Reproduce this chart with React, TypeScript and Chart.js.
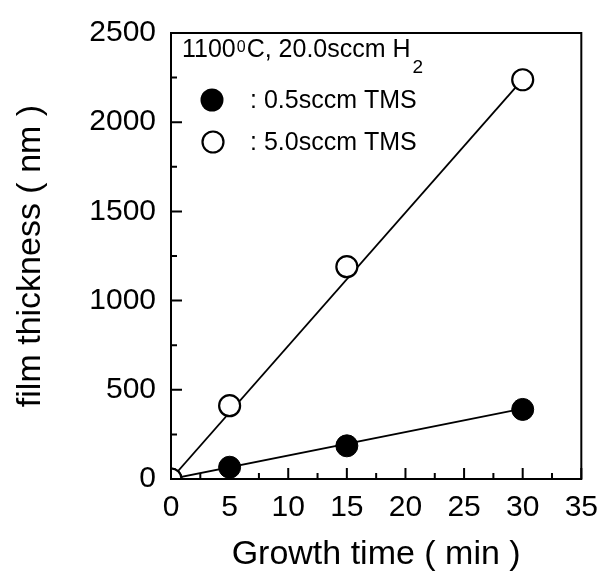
import React, { useEffect, useRef } from "react";
import { Chart, registerables } from "chart.js";

Chart.register(...registerables);

// ---- data ----
const times = [0, 5, 15, 30];
const lowTMS = [0, 66, 186, 390]; // 0.5 sccm TMS (filled)
const highTMS = [0, 411, 1190, 2238]; // 5.0 sccm TMS (open)
const fitTimes = [0, 30];
const lowFit = [0, 395];
const highFit = [0, 2240];
const xTicks = [0, 5, 10, 15, 20, 25, 30, 35];
const xMinorTicks = [2.5, 7.5, 12.5, 17.5, 22.5, 27.5, 32.5];
const yTicks = [0, 500, 1000, 1500, 2000, 2500];
const yMinorTicks = [250, 750, 1250, 1750, 2250];

const xTitle = "Growth time ( min )";
const yTitle = "film thickness ( nm )";
const condMain1 = "1100";
const condSup = "0";
const condMain2 = "C, 20.0sccm H";
const condSub = "2";
const legendLow = ": 0.5sccm TMS";
const legendHigh = ": 5.0sccm TMS";

const FONT = "'Liberation Sans', Arial, sans-serif";

const framePlugin = {
  id: "frameAndTicks",
  afterDraw(chart: any) {
    const { ctx, chartArea, scales } = chart;
    const { left, right, top, bottom } = chartArea;
    const x = scales.x;
    const y = scales.y;
    ctx.save();
    ctx.strokeStyle = "#000";
    ctx.lineWidth = 2;
    ctx.strokeRect(left, top, right - left, bottom - top);
    ctx.lineWidth = 2;
    ctx.beginPath();
    for (const v of xTicks) {
      const px = x.getPixelForValue(v);
      ctx.moveTo(px, bottom);
      ctx.lineTo(px, bottom - 11);
    }
    for (const v of xMinorTicks) {
      const px = x.getPixelForValue(v);
      ctx.moveTo(px, bottom);
      ctx.lineTo(px, bottom - 6);
    }
    for (const v of yTicks) {
      const py = y.getPixelForValue(v);
      ctx.moveTo(left, py);
      ctx.lineTo(left + 11, py);
    }
    for (const v of yMinorTicks) {
      const py = y.getPixelForValue(v);
      ctx.moveTo(left, py);
      ctx.lineTo(left + 6, py);
    }
    ctx.stroke();

    // condition text and legend
    ctx.fillStyle = "#000";
    ctx.textAlign = "left";
    ctx.textBaseline = "alphabetic";
    let cx = 182;
    const base = 57;
    ctx.font = `25px ${FONT}`;
    ctx.fillText(condMain1, cx, base);
    cx += ctx.measureText(condMain1).width + 1;
    ctx.font = `16px ${FONT}`;
    ctx.fillText(condSup, cx, base - 5);
    cx += ctx.measureText(condSup).width + 1;
    ctx.font = `25px ${FONT}`;
    ctx.fillText(condMain2, cx, base);
    cx += ctx.measureText(condMain2).width + 2;
    ctx.font = `19px ${FONT}`;
    ctx.fillText(condSub, cx, base + 16);

    // legend rows
    ctx.font = `25px ${FONT}`;
    ctx.textBaseline = "middle";
    ctx.beginPath();
    ctx.arc(212, 100, 11.5, 0, Math.PI * 2);
    ctx.fill();
    ctx.fillText(legendLow, 250, 101);
    ctx.beginPath();
    ctx.lineWidth = 2.2;
    ctx.arc(213, 142, 10.5, 0, Math.PI * 2);
    ctx.stroke();
    ctx.fillText(legendHigh, 250, 143);
    ctx.restore();
  },
};

export default function App() {
  const ref = useRef<HTMLCanvasElement | null>(null);
  useEffect(() => {
    if (!ref.current) return;
    const toPts = (xs: number[], ys: number[]) => xs.map((v, i) => ({ x: v, y: ys[i] }));
    const chart = new Chart(ref.current, {
      type: "line",
      data: {
        datasets: [
          {
            label: "5.0sccm TMS",
            data: toPts(times, highTMS),
            showLine: false,
            pointRadius: 10.5,
            pointBackgroundColor: "#fff",
            pointBorderColor: "#000",
            pointBorderWidth: 2.2,
          },
          {
            label: "0.5sccm TMS",
            data: toPts(times, lowTMS),
            showLine: false,
            pointRadius: 11,
            pointBackgroundColor: "#000",
            pointBorderColor: "#000",
            pointBorderWidth: 1,
          },
          {
            label: "fit low",
            data: toPts(fitTimes, lowFit),
            borderColor: "#000",
            borderWidth: 1.8,
            pointRadius: 0,
            fill: false,
          },
          {
            label: "fit high",
            data: toPts(fitTimes, highFit),
            borderColor: "#000",
            borderWidth: 1.8,
            pointRadius: 0,
            fill: false,
          },
        ],
      },
      options: {
        responsive: false,
        animation: false,
        devicePixelRatio: 1,
        layout: { padding: { top: 25, right: 27, left: 0, bottom: 0 } },
        plugins: { legend: { display: false }, tooltip: { enabled: false } },
        scales: {
          x: {
            type: "linear",
            min: 0,
            max: 35,
            afterBuildTicks: (s: any) => {
              s.ticks = xTicks.map((v) => ({ value: v }));
            },
            afterFit: (s: any) => {
              s.height = 98;
            },
            grid: { display: false, drawTicks: false },
            border: { display: false },
            ticks: {
              color: "#000",
              font: { family: FONT, size: 30 },
              padding: 11,
              maxRotation: 0,
              autoSkip: false,
              callback: (v: any) => String(v),
            },
            title: {
              display: true,
              text: xTitle,
              color: "#000",
              font: { family: FONT, size: 34 },
              padding: { top: 0, bottom: 2 },
            },
          },
          y: {
            type: "linear",
            min: 0,
            max: 2500,
            afterBuildTicks: (s: any) => {
              s.ticks = yTicks.map((v) => ({ value: v }));
            },
            afterFit: (s: any) => {
              s.width = 171;
            },
            grid: { display: false, drawTicks: false },
            border: { display: false },
            ticks: {
              color: "#000",
              font: { family: FONT, size: 30 },
              padding: 15,
              autoSkip: false,
              callback: (v: any) => String(v),
            },
            title: {
              display: true,
              text: yTitle,
              color: "#000",
              font: { family: FONT, size: 34 },
              padding: { top: 10, bottom: 0 },
            },
          },
        },
      },
      plugins: [framePlugin],
    } as any);
    return () => chart.destroy();
  }, []);
  return (
    <div style={{ position: "absolute", left: 0, top: 0, width: 609, height: 577, background: "#fff" }}>
      <canvas ref={ref} width={609} height={577} />
    </div>
  );
}
